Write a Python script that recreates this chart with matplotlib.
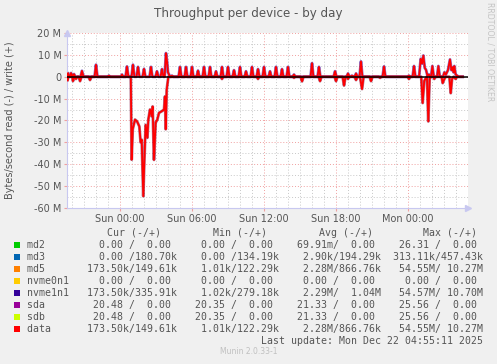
import matplotlib
matplotlib.use("Agg")
import matplotlib.pyplot as plt
import numpy as np

# hours relative to Sun 00:00, values in M bytes/s
write_t = [-4.42, -4.33, -4.25, -4.17, -4.08, -4.0, -3.83, -3.72,
           -3.29, -3.17, -3.04, -2.12, -2.0, -1.88, -1.0, -0.92, -0.83,
           0.08, 0.17, 0.25, 0.46, 0.58, 0.7, 0.96, 1.08, 1.2,
           1.38, 1.5, 1.62, 1.88, 2.0, 2.12, 2.46, 2.58, 2.7,
           2.96, 3.08, 3.2, 3.38, 3.5, 3.62, 3.72, 3.83, 3.92, 4.0, 4.08, 4.17,
           4.25, 4.33, 4.42,
           4.88, 5.0, 5.12, 5.38, 5.5, 5.62, 5.88, 6.0, 6.12, 6.38, 6.5, 6.62,
           6.88, 7.0, 7.12, 7.38, 7.5, 7.62, 7.88, 8.0, 8.12, 8.38, 8.5, 8.62,
           8.88, 9.0, 9.12, 9.38, 9.5, 9.62, 9.88, 10.0, 10.12, 10.38, 10.5, 10.62,
           10.88, 11.0, 11.12, 11.38, 11.5, 11.62, 11.88, 12.0, 12.12, 12.38, 12.5, 12.62,
           12.88, 13.0, 13.12, 13.38, 13.5, 13.62, 13.88, 14.0, 14.12, 14.38, 14.5, 14.62,
           15.88, 16.0, 16.12, 16.46, 16.58, 16.7, 17.8, 17.92, 18.04,
           18.88, 19.0, 19.12, 19.22, 19.33, 19.44, 19.55, 19.67, 19.79,
           19.96, 20.08, 20.2, 21.88, 22.0, 22.12, 23.96, 24.08, 24.2,
           24.38, 24.5, 24.62, 24.92, 25.06, 25.17, 25.28, 25.4, 25.5, 25.62, 25.75, 25.85,
           25.92, 26.03, 26.15, 26.42, 26.53, 26.65,
           26.92, 27.03, 27.15, 27.33, 27.5, 27.62, 27.72, 27.8, 27.86, 27.97, 28.1, 28.2,
           28.55]
write_v = [0, 1.7, 0.2, 0, 1.7, 0.3, 1.2, 0,
           0, 2.7, 0, 0, 5.5, 0, 0, 0.5, 0,
           0, 1.0, 0, 0, 4.7, 0, 0, 5.5, 0,
           0, 4.5, 0, 0, 3.6, 0, 0, 4.5, 0,
           0, 2.5, 0, 0, 3.5, 0, 0, 10.8, 7.0, 2.0, 1.0, 0,
           0, 0.5, 0,
           0, 4.5, 0, 0, 4.5, 0, 0, 4.5, 0, 0, 2.8, 0,
           0, 4.5, 0, 0, 4.5, 0, 0, 2.5, 0, 0, 4.5, 0,
           0, 4.5, 0, 0, 3.0, 0, 0, 4.5, 0, 0, 2.5, 0,
           0, 4.5, 0, 0, 3.5, 0, 0, 4.5, 0, 0, 2.5, 0,
           0, 4.5, 0, 0, 3.5, 0, 0, 4.5, 0, 0, 1.0, 0,
           0, 6.2, 0, 0, 4.5, 0, 0, 2.5, 0,
           0, 1.5, 0, 0, 0.5, 0, 0, 1.5, 0,
           0, 7.0, 0, 0, 4.7, 0, 0, 0.5, 0,
           0, 4.9, 0, 0, 8.2, 6.0, 9.7, 4.0, 3.2, 0.5, 1.0, 0,
           0, 4.9, 0, 0, 4.9, 0,
           0, 2.0, 1.0, 3.0, 7.9, 3.0, 4.3, 2.0, 4.9, 1.0, 0.5, 0,
           0]

read_t = [-4.42, -4.38, -4.3, -3.98, -3.92, -3.8, -3.67, -3.55, -3.45, -3.33, -3.2,
          -2.62, -2.5, -2.38,
          0.9, 0.97, 1.06, 1.25, 1.42, 1.61, 1.72, 1.81, 1.94, 2.03, 2.14, 2.28, 2.36,
          2.5, 2.64, 2.72, 2.83, 2.97, 3.11, 3.25, 3.47, 3.67, 3.75, 3.81, 3.89, 4.03,
          8.4, 8.5, 8.6, 11.4, 11.5, 11.6, 14.4, 14.5, 14.6, 15.05, 15.17, 15.29,
          16.55, 16.67, 16.79, 17.88, 18.0, 18.12, 18.55, 18.67, 18.79, 18.9, 19.0, 19.1,
          19.55, 19.67, 19.79, 20.0, 20.17, 20.3, 20.8, 20.92, 21.04, 21.55, 21.67, 21.79,
          23.96, 24.08, 24.2, 25.1, 25.22, 25.35, 25.45, 25.58, 25.69, 25.8, 25.9,
          26.1, 26.19, 26.3, 26.8, 26.89, 27.03, 27.15,
          27.45, 27.56, 27.67, 27.8, 27.97, 28.1, 28.55]
read_v = [0, -1.8, 0, 0, -2.0, 0, -1.0, 0, 0, -2.0, 0,
          0, -1.5, 0,
          0, -37.9, -24.0, -19.6, -20.4, -22.7, -30.0, -28.8, -54.6, -38.0, -22.0, -27.9, -19.6,
          -15.0, -18.0, -13.6, -38.0, -21.0, -19.6, -16.5, -15.8, -15.0, -9.0, -24.0, -6.0, 0,
          0, -1.0, 0, 0, -1.0, 0, 0, -0.5, 0, 0, -2.1, 0,
          0, -2.0, 0, 0, -2.0, 0, 0, -4.0, 0, 0, -1.0, 0,
          0, -1.5, 0, 0, -5.6, 0, 0, -2.0, 0, 0, -0.5, 0,
          0, -1.0, 0, 0, -12.0, -2.0, -1.0, 0, -20.4, -1.0, 0,
          0, -1.0, 0, 0, -2.9, -1.0, 0,
          0, -7.5, -1.0, 0, -1.0, 0, 0]

x_ticks = [0, 6, 12, 18, 24]
x_labels = ["Sun 00:00", "Sun 06:00", "Sun 12:00", "Sun 18:00", "Mon 00:00"]
y_ticks = [20, 10, 0, -10, -20, -30, -40, -50, -60]
y_labels = ["20 M", "10 M", "0", "-10 M", "-20 M", "-30 M", "-40 M", "-50 M", "-60 M"]

names = ["md2", "md3", "md5", "nvme0n1", "nvme1n1", "sda", "sdb", "data"]
colors = ["#00cc00", "#0066b3", "#ff8000", "#ffcc00", "#330099", "#990099", "#ccff00", "#ff0000"]
cur = ["  0.00 /  0.00 ", "  0.00 /180.70k", "173.50k/149.61k", "  0.00 /  0.00 ",
       "173.50k/335.91k", " 20.48 /  0.00 ", " 20.48 /  0.00 ", "173.50k/149.61k"]
mins = ["  0.00 /  0.00 ", "  0.00 /134.19k", "  1.01k/122.29k", "  0.00 /  0.00 ",
        "  1.02k/279.18k", " 20.35 /  0.00 ", " 20.35 /  0.00 ", "  1.01k/122.29k"]
avgs = [" 69.91m/  0.00 ", "  2.90k/194.29k", "  2.28M/866.76k", "  0.00 /  0.00 ",
        "  2.29M/  1.04M", " 21.33 /  0.00 ", " 21.33 /  0.00 ", "  2.28M/866.76k"]
maxs = [" 26.31 /  0.00 ", "313.11k/457.43k", " 54.55M/ 10.27M", "  0.00 /  0.00 ",
        " 54.57M/ 10.70M", " 25.56 /  0.00 ", " 25.56 /  0.00 ", " 54.55M/ 10.27M"]

W, H = 497, 364
fig = plt.figure(figsize=(W / 100, H / 100), dpi=100, facecolor="#f0f0f0")
ax = fig.add_axes([67 / W, 1 - 208 / H, 401 / W, 175 / H], facecolor="white")

ax.set_xlim(-4.417, 29.0)
ax.set_ylim(-60, 20)

# grid
for h in np.arange(-4, 29, 1):
    if h % 6 != 0:
        ax.axvline(h, color="#c8c8c8", lw=0.7, ls=(0, (1, 2)), zorder=0)
for h in x_ticks:
    ax.axvline(h, color="#f0a0a0", lw=0.7, ls=(0, (1, 2)), zorder=0)
for v in np.arange(-55, 20, 10):
    ax.axhline(v, color="#c8c8c8", lw=0.7, ls=(0, (1, 2)), zorder=0)
for v in y_ticks:
    ax.axhline(v, color="#f0a0a0", lw=0.7, ls=(0, (1, 2)), zorder=0)

# lines: nvme1n1 peeks out under data
ax.plot(write_t, write_v, color="#330099", lw=2.1, alpha=0.55, zorder=2)
ax.plot(read_t, read_v, color="#7a0030", lw=2.1, alpha=0.55, zorder=2)
ax.plot(write_t, write_v, color="#ff0000", lw=1.3, zorder=3)
ax.plot(read_t, read_v, color="#ff0000", lw=1.3, zorder=3)
ax.axhline(0, color="black", lw=1.1, zorder=4)

ax.set_xticks(x_ticks)
ax.set_xticklabels(x_labels)
ax.set_yticks(y_ticks)
ax.set_yticklabels(y_labels)
ax.tick_params(axis="both", labelsize=7, colors="#555555", length=2, color="#f0a0a0", pad=2)
for s in ["top", "right"]:
    ax.spines[s].set_visible(False)
for s in ["left", "bottom"]:
    ax.spines[s].set_color("#c8c8f0")
    ax.spines[s].set_linewidth(0.8)
ax.plot([1.0], [0], marker=">", color="#c8c8f0", ms=4, transform=ax.transAxes, clip_on=False)
ax.plot([0], [1.0], marker="^", color="#c8c8f0", ms=4, transform=ax.transAxes, clip_on=False)

fig.text(248 / W, 1 - 13 / H, "Throughput per device - by day", ha="center", va="center",
         fontsize=8.6, color="#555555")
fig.text(10 / W, 1 - 120 / H, "Bytes/second read (-) / write (+)", rotation=90,
         ha="center", va="center", fontsize=7, color="#555555")
fig.text(490 / W, 1 - 52 / H, "RRDTOOL / TOBI OETIKER", rotation=270,
         ha="center", va="center", fontsize=5.6, color="#c4c4c4")

# legend
mono = "DejaVu Sans Mono"
for label, xp in zip(["Cur (-/+)", "Min (-/+)", "Avg (-/+)", "Max (-/+)"], [107, 213, 319, 423]):
    fig.text(xp / W, 1 - 233 / H, label, family=mono, fontsize=7.1, color="#555555", va="center")
for i, name in enumerate(names):
    y = 245 + 12 * i
    fig.patches.append(plt.Rectangle(((14) / W, 1 - (y + 3) / H), 6 / W, 6 / H,
                                     transform=fig.transFigure, facecolor=colors[i],
                                     edgecolor="none"))
    line = f"{name:<8}  {cur[i]}  {mins[i]}  {avgs[i]}  {maxs[i]}"
    fig.text(27 / W, 1 - y / H, line, family=mono, fontsize=7.1, color="#555555", va="center")
fig.text(483 / W, 1 - 341 / H, "Last update: Mon Dec 22 04:55:11 2025", family=mono,
         fontsize=7.1, color="#555555", va="center", ha="right")
fig.text(249 / W, 1 - 352 / H, "Munin 2.0.33-1", fontsize=5.5, color="#c0c0c0",
         va="center", ha="center")

fig.savefig("out.png", dpi=100, facecolor=fig.get_facecolor())
